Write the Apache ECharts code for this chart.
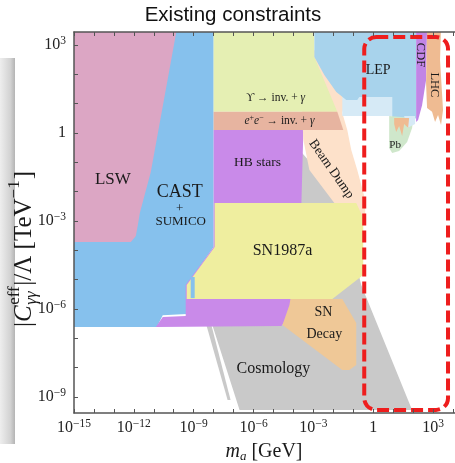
<!DOCTYPE html>
<html><head><meta charset="utf-8">
<script src="https://cdn.jsdelivr.net/npm/echarts@6/dist/echarts.min.js"></script>
<style>html,body{margin:0;padding:0;background:#fff}#c{width:455px;height:463px}</style>
</head><body><div id="c"></div>
<script>
// ---- axes (log10 exponents) ----
const xTicks = [-15,-14,-13,-12,-11,-10,-9,-8,-7,-6,-5,-4,-3,-2,-1,0,1,2,3,4];
const xLabels = [-15,-12,-9,-6,-3,0,3];
const yTicks = [-9,-8,-7,-6,-5,-4,-3,-2,-1,0,1,2,3];
const yLabels = [-9,-6,-3,0,3];
const xRange = [-15, 4.1];
const yRange = [-9.546, 3.443];

// ---- excluded regions: [log10(m_a/GeV), log10(|C|/Λ · TeV)] ----
const cosmology = [[-3.7,-0.58],[-1.7,-2.11],[-0.6,-5.18],[1.95,-9.44],[-6.7,-9.44],[-8.05,-6.58],[-8.45,-5.69],[-6.2,-3.65]];
const cosmologySliver = [[-8.35,-6.58],[-8.1,-6.58],[-7.15,-9.10],[-7.3,-9.10]];
const castSumico = [[-15.2,3.6],[-8.0,3.6],[-8.0,-3.89],[-9.35,-5.18],[-9.35,-6.17],[-10.55,-6.21],[-10.85,-6.61],[-15.2,-6.61]];
const hbStars = [[-8.0,0.10],[-3.5,0.10],[-3.6,-2.39],[-3.7,-5.63],[-4.1,-5.69],[-4.2,-6.14],[-4.6,-6.58],[-10.9,-6.61],[-10.55,-6.27],[-9.4,-6.24],[-9.4,-5.18],[-8.0,-3.89]];
const beamDump = [[-2.95,2.83],[-1.35,1.23],[-1.55,0.68],[-1.3,0.10],[-1.1,-0.58],[-0.8,-1.26],[-0.4,-2.28],[-0.4,-3.14],[-0.95,-3.14],[-1.95,-2.39],[-3.2,-1.26],[-3.5,-0.24],[-3.7,2.49]];
const sn1987a = [[-7.95,-2.39],[-0.85,-2.39],[-0.5,-2.90],[-0.5,-4.84],[-2.05,-5.66],[-9.35,-5.66],[-9.35,-5.18],[-7.95,-3.89]];
const castStrip = [[-9.15,-4.91],[-8.95,-4.91],[-8.95,-5.63],[-9.15,-5.63]];
const snDecay = [[-4.15,-5.66],[-1.55,-5.66],[-0.85,-6.48],[-0.85,-7.91],[-1.2,-8.08],[-1.55,-8.08],[-4.55,-6.55],[-4.2,-5.86]];
const lsw = [[-15.2,3.6],[-9.83,3.6],[-11.15,-1.33],[-11.7,-2.73],[-11.8,-3.14],[-11.9,-3.51],[-12.15,-3.72],[-15.2,-3.72]];
const upsilon = [[-8.0,3.6],[-2.95,3.6],[-2.95,2.59],[-1.8,0.72],[-8.0,0.72]];
const eeInv = [[-8.0,0.72],[-1.8,0.72],[-1.5,0.10],[-8.0,0.10]];
const lepBand = [[-1.55,1.23],[0.95,1.23],[0.95,0.58],[-1.55,0.58]];
const lep = [[-2.95,3.6],[2.15,3.6],[2.15,0.51],[1.95,0.41],[0.95,0.41],[0.95,1.23],[-0.7,1.23],[-0.8,1.125],[-1.35,1.125],[-1.85,1.40],[-2.45,1.98],[-2.95,2.59]];
const pb = [[0.8,0.58],[2.0,0.51],[1.95,0.17],[1.7,-0.31],[1.3,-0.61],[0.95,-0.68],[0.8,-0.51]];
const lepPatch = [[1.55,0.58],[2.1,0.58],[2.1,0.31],[1.7,0.17]];
const lhcDrips = [[1.05,0.51],[1.8,0.51],[1.75,0.17],[1.55,0.31],[1.45,-0.10],[1.3,0.24],[1.15,0.03],[1.05,0.31]];
const cdf = [[2.15,3.6],[2.7,3.6],[2.65,1.81],[2.45,0.95],[2.25,0.44],[2.15,0.375]];
const lhc = [[2.7,3.6],[3.4,3.6],[3.35,2.49],[3.5,0.78],[3.4,0.27],[3.25,0.61],[3.1,0.375],[2.95,0.72],[2.7,0.85],[2.65,1.70]];

// highlighted box (data space corners)
const boxX = [-0.45, 3.75];
const boxY = [-9.44, 3.27];

// region labels and their anchors
const labelTexts = ['LSW','CAST','+','SUMICO','ϒ → inv. + γ','e+e- → inv. + γ','HB stars','Beam Dump','SN1987a','SN','Decay','Cosmology','LEP','CDF','LHC','Pb'];
const labelAt = [[-13.05,-1.57],[-9.7,-2.01],[-9.7,-2.56],[-9.65,-3.03],[-4.9,1.19],[-4.7,0.41],[-5.8,-1.02],[-2.1,-1.23],[-4.55,-4.02],[-2.5,-6.10],[-2.45,-6.85],[-5.0,-8.05],[0.25,2.15],[2.35,2.66],[3.05,1.64],[1.1,-0.41]];

// ---- styling ----
const SERIF = '"Liberation Serif","Times New Roman",serif';
const labelSize = [17,18,13,13,11.5,11.5,13.5,13.5,16,14,14,16,14,12.5,12.5,11];
const labelRot = [0,0,0,0,0,0,0,-55,0,0,0,0,0,-90,-90,0];

const regionStyle = [
  [cosmology,'#c9c9c9'],[cosmologySliver,'#c9c9c9'],[castSumico,'#86c1ed'],[hbStars,'#c98ae9'],
  [beamDump,'#fde1ca'],[sn1987a,'#efee9f'],[castStrip,'#86c1ed'],[snDecay,'#efc897'],[lsw,'#dca6c4'],
  [upsilon,'#e5efb3'],[eeInv,'#e7b4a0'],[lepBand,'#d6eaf6'],[lep,'#a8d3ec'],[pb,'#cfe7cb'],
  [lepPatch,'#d6eaf6'],[lhcDrips,'#efbb92'],[cdf,'#c185e6'],[lhc,'#efbb92']
];

function sci(v){
  if (v === 0) return '{n|1}';
  return '{n|10}{s|' + (v < 0 ? '\u2212' : '') + Math.abs(v) + '}';
}
const tickRich = {
  n:{fontFamily:SERIF,fontSize:16,color:'#222',lineHeight:20},
  s:{fontFamily:SERIF,fontSize:11.5,color:'#222',lineHeight:12,verticalAlign:'top'}
};

const series = regionStyle.map(([pts,color],i)=>({
  type:'custom', coordinateSystem:'cartesian2d', clip:true, silent:true, z:2+i*0.01,
  data: pts,
  renderItem:(params, api)=>{
    if (params.dataIndex !== 0) return null;
    return {type:'polygon', shape:{points: pts.map(p=>api.coord(p))}, style:{fill:color}};
  }
}));

series.push({
  type:'custom', coordinateSystem:'cartesian2d', clip:false, silent:true, z:5,
  data:[[boxX[0],boxY[1]]],
  renderItem:(params, api)=>{
    const a = api.coord([boxX[0], boxY[1]]), b = api.coord([boxX[1], boxY[0]]);
    return {type:'rect', shape:{x:a[0],y:a[1],width:b[0]-a[0],height:b[1]-a[1],r:12},
      style:{fill:'none',stroke:'#ee1d1d',lineWidth:4,lineDash:[12,5]}};
  }
});

series.push({
  type:'custom', coordinateSystem:'cartesian2d', clip:false, silent:true, z:6,
  data: labelAt,
  renderItem:(params, api)=>{
    const i = params.dataIndex;
    const p = api.coord([api.value(0), api.value(1)]);
    let text = labelTexts[i], rich = undefined;
    const fs = labelSize[i];
    if (i === 4) { text = '{u|ϒ} → inv. + {g|γ}'; rich = {u:{fontFamily:SERIF,fontSize:fs,fill:'#222'},g:{fontFamily:SERIF,fontSize:fs,fontStyle:'italic',fill:'#222'}}; }
    if (i === 5) { text = '{g|e}{s|+}{g|e}{s|\u2212} → inv. + {g|γ}';
      rich = {g:{fontFamily:SERIF,fontSize:fs,fontStyle:'italic',fill:'#222',lineHeight:14},s:{fontFamily:SERIF,fontSize:8,fill:'#222',lineHeight:8,verticalAlign:'top'}}; }
    return {type:'text', x:p[0], y:p[1], rotation: labelRot[i]*Math.PI/180,
      style:{text, rich, fontFamily:SERIF, fontSize:fs, fill:'#1a1a1a', align:'center', verticalAlign:'middle'}};
  }
});

// y-axis title pieces measured for layout
function yTitleChildren(){
  const ctx = document.createElement('canvas').getContext('2d');
  const big = 25, small = 17;
  const w = (s, sz, it) => { ctx.font = (it ? 'italic ' : '') + sz + 'px "Liberation Serif"'; return ctx.measureText(s).width; };
  const pieces = [
    {t:'|', sz:big, dy:0},
    {t:'C', sz:big, it:true, dy:0},
    {stack:[{t:'eff', sz:small, dy:-9},{t:'γγ', sz:small, it:true, dy:8}]},
    {t:'|/Λ [TeV', sz:big, dy:0},
    {t:'\u22121', sz:small, dy:-9},
    {t:']', sz:big, dy:0}
  ];
  let total = 0;
  pieces.forEach(p => {
    if (p.stack) p.w = Math.max(...p.stack.map(s => w(s.t, s.sz, s.it))) + 1;
    else p.w = w(p.t, p.sz, p.it) + (p.sz === small ? 1 : 0);
    total += p.w;
  });
  let x = -total/2; const out = [];
  const mk = (s, x0) => ({type:'text', x:x0, y:s.dy, style:{text:s.t, fontFamily:SERIF, fontSize:s.sz, fontStyle:s.it?'italic':'normal', fill:'#1a1a1a', align:'left', verticalAlign:'middle'}});
  pieces.forEach(p => {
    if (p.stack) p.stack.forEach(s => out.push(mk(s, x + 0.5)));
    else out.push(mk(p, x));
    x += p.w;
  });
  return out;
}

const chart = echarts.init(document.getElementById('c'), null, {renderer:'canvas'});
const axisCommon = {
  type:'value', z:10, splitLine:{show:false},
  axisLine:{show:true, onZero:false, lineStyle:{color:'#555', width:1.5}},
};
chart.setOption({
  animation:false,
  backgroundColor:'#fff',
  grid:{left:74, top:32, width:382, height:381},
  xAxis:[
    Object.assign({}, axisCommon, {position:'bottom', min:xRange[0], max:xRange[1],
      axisTick:{inside:true, length:4, customValues:xTicks, lineStyle:{color:'#555', width:1}},
      axisLabel:{customValues:xLabels, formatter:sci, rich:tickRich, margin:5}}),
    Object.assign({}, axisCommon, {position:'top', min:xRange[0], max:xRange[1],
      axisTick:{inside:true, length:4, customValues:xTicks, lineStyle:{color:'#555', width:1}},
      axisLabel:{show:false}})
  ],
  yAxis:[
    Object.assign({}, axisCommon, {position:'left', min:yRange[0], max:yRange[1],
      axisTick:{inside:true, length:4, customValues:yTicks, lineStyle:{color:'#555', width:1}},
      axisLabel:{customValues:yLabels, formatter:sci, rich:tickRich, margin:8}})
  ],
  graphic:[
    {type:'rect', left:0, top:58, shape:{x:0,y:0,width:15,height:386}, silent:true,
      style:{fill:new echarts.graphic.LinearGradient(0,0,1,0,[{offset:0,color:'#eeeeee'},{offset:0.7,color:'#d2d2d2'},{offset:1,color:'#b4b4b4'}])}},
    {type:'text', x:233, y:15, silent:true,
      style:{text:'Existing constraints', fontFamily:'"Liberation Sans",Arial,sans-serif', fontSize:20.5, fill:'#111', align:'center', verticalAlign:'middle'}},
    {type:'text', x:264, y:452, silent:true,
      style:{text:'{i|m}{b|a}{n| [GeV]}', align:'center', verticalAlign:'middle',
        rich:{i:{fontFamily:SERIF,fontSize:20,fontStyle:'italic',fill:'#1a1a1a',lineHeight:22},
              b:{fontFamily:SERIF,fontSize:13,fontStyle:'italic',fill:'#1a1a1a',lineHeight:14,verticalAlign:'bottom'},
              n:{fontFamily:SERIF,fontSize:20,fill:'#1a1a1a',lineHeight:22}}}},
    {type:'group', x:24, y:249, rotation:Math.PI/2, silent:true, children:yTitleChildren()}
  ],
  series
});
</script></body></html>
